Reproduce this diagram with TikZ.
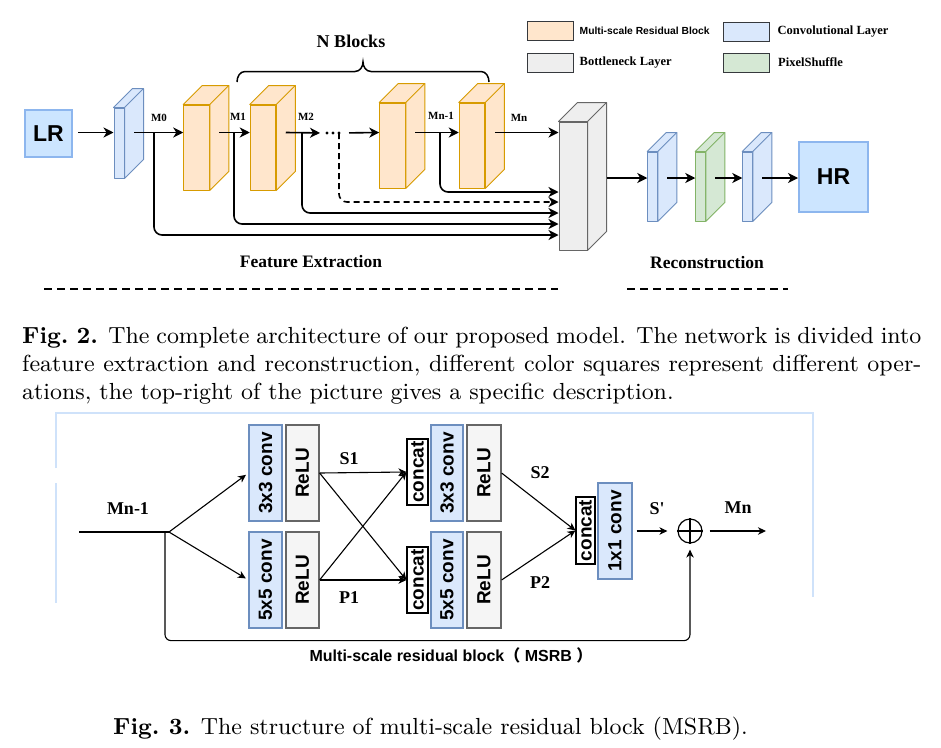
\documentclass[tikz,border=0pt]{standalone}
\usepackage{fontspec}
\usetikzlibrary{positioning,calc,arrows.meta}
\newfontfamily\tnr{Liberation Serif}
\newfontfamily\ari{Liberation Sans}
\newfontfamily\cjk{Noto Sans CJK SC}
\definecolor{convfill}{HTML}{DAE8FC}
\definecolor{convline}{HTML}{6C8EBF}
\definecolor{msrbfill}{HTML}{FFE6CC}
\definecolor{msrbline}{HTML}{D79B00}
\definecolor{psfill}{HTML}{D5E8D4}
\definecolor{psline}{HTML}{82B366}
\definecolor{bnfill}{HTML}{EEEEEE}
\definecolor{bnline}{HTML}{666666}
\definecolor{relufill}{HTML}{F5F5F5}
\definecolor{iofill}{HTML}{CCE5FF}
\definecolor{ioline}{HTML}{8DB6EE}
\definecolor{legline}{HTML}{36393D}
\definecolor{framecol}{HTML}{CFE2FA}

\begin{document}
\begin{tikzpicture}[x=1pt, y=-1pt,
  face/.style={line width=1pt, inner sep=0pt, line join=round},
  iobox/.style={draw=ioline, fill=iofill, line width=2pt, inner sep=0pt,
    font=\ari\bfseries\fontsize{23}{23}\selectfont},
  legbox/.style={draw=legline, line width=1pt, minimum width=46pt, minimum height=19pt, inner sep=0pt},
  legtext/.style={inner sep=0pt, font=\tnr\bfseries\fontsize{12.5}{12.5}\selectfont},
  mlabel/.style={inner sep=0pt, font=\tnr\bfseries\fontsize{11}{11}\selectfont},
  title/.style={inner sep=0pt, font=\tnr\bfseries\fontsize{17.5}{17.5}\selectfont},
  flabel/.style={inner sep=0pt, font=\tnr\bfseries\fontsize{18}{18}\selectfont},
  thickarr/.style={line width=1.6pt, -{Stealth[length=10pt,width=10pt,inset=3pt]}},
  thinarr/.style={line width=1.1pt, -{Stealth[length=8pt,width=7.5pt,inset=2.5pt]}},
  opbox/.style={line width=1.2pt, minimum width=33pt, minimum height=96pt, inner sep=0pt,
    font=\ari\bfseries\fontsize{19}{19}\selectfont},
  convop/.style={opbox, draw=convline, fill=convfill},
  reluop/.style={opbox, draw=bnline, fill=relufill},
  catbox/.style={draw=black, fill=white, line width=1.2pt, minimum width=21pt, minimum height=66pt,
    inner sep=0pt, font=\ari\bfseries\fontsize{19}{19}\selectfont}
]

  % Page
  \useasboundingbox (0,0) rectangle (941,747);
  \fill[white] (0,0) rectangle (941,747);

  % ---------------- Fig. 2: whole network ----------------
  \coordinate (row) at (0,132.5);
  \coordinate (row2) at (0,178);

  \node[iobox, minimum size=47pt] (lr) at (48.5,133.5) {LR};
  \node[iobox, minimum width=69pt, minimum height=70pt] (hr) at (833.5,177) {HR};

  % front faces of the blocks
  \node[face, draw=convline, fill=convfill, minimum width=10pt, minimum height=70pt] (c1) at (119,143) {};
  \node[face, draw=msrbline, fill=msrbfill, minimum width=25.5pt, minimum height=85pt] (b1) at (196.5,147.5) {};
  \node[face, draw=msrbline, fill=msrbfill, minimum width=25.5pt, minimum height=85pt] (b2) at (263,147.5) {};
  \node[face, draw=msrbline, fill=msrbfill, minimum width=25.5pt, minimum height=85pt] (b3) at (392.5,145.5) {};
  \node[face, draw=msrbline, fill=msrbfill, minimum width=25.5pt, minimum height=85pt] (b4) at (472,145.5) {};
  \node[face, draw=bnline, fill=bnfill, minimum width=28pt, minimum height=128pt] (bn) at (573,186) {};
  \node[face, draw=convline, fill=convfill, minimum width=9.5pt, minimum height=69pt] (c2) at (652.5,186.5) {};
  \node[face, draw=psline, fill=psfill, minimum width=9.5pt, minimum height=69pt] (ps) at (700.5,186.5) {};
  \node[face, draw=convline, fill=convfill, minimum width=9.5pt, minimum height=69pt] (c3) at (747.5,186.5) {};

  % top and side faces
  \foreach \n/\f/\c in {c1/convfill/convline, b1/msrbfill/msrbline, b2/msrbfill/msrbline,
      b3/msrbfill/msrbline, b4/msrbfill/msrbline, bn/bnfill/bnline,
      c2/convfill/convline, ps/psfill/psline, c3/convfill/convline} {
    \filldraw[fill=\f, draw=\c, line width=1pt, line join=round]
      (\n.north west) -- ++(19,-19) -- ($(\n.north east)+(19,-19)$)
      -- ($(\n.south east)+(19,-19)$) -- (\n.south east) -- (\n.north east) -- cycle;
    \draw[\c, line width=1pt] (\n.north east) -- ++(19,-19);
    \coordinate (\n-s) at ($(\n.east)+(9.5,0)$);
  }

  % dots between the blocks
  \coordinate (d1) at (327,133);
  \coordinate (d2) at (333,133);
  \coordinate (d3) at (339,133);
  \foreach \n in {d1,d2,d3}
    \fill (\n) circle (1.7);

  % main path
  \draw[thickarr, shorten <=5pt] (lr.east |- row) -- (c1.west |- row);
  \draw[thickarr] (c1-s |- row) -- (b1.west |- row);
  \draw[thickarr] (b1-s |- row) -- (b2.west |- row);
  \draw[thickarr, shorten >=7pt] (b2-s |- row) -- (d1);
  \draw[thickarr, shorten <=10pt] (d3) -- (b3.west |- row);
  \draw[thickarr] (b3-s |- row) -- (b4.west |- row);
  \draw[thickarr] (b4-s |- row) -- (bn.west |- row);
  \draw[thickarr] ([xshift=19pt]bn.east |- row2) -- (c2.west |- row2);
  \draw[thickarr] (c2-s |- row2) -- (ps.west |- row2);
  \draw[thickarr] (ps-s |- row2) -- (c3.west |- row2);
  \draw[thickarr] (c3-s |- row2) -- (hr.west |- row2);

  % skip connections into the bottleneck
  \coordinate (m0) at (154,132.5);
  \coordinate (m1) at (234,132.5);
  \coordinate (m2) at (302,132.5);
  \coordinate (mn1) at (440,132.5);
  \draw[thickarr, rounded corners=8pt] (mn1) |- ([yshift=-6pt]bn.west);
  \draw[thickarr, rounded corners=8pt, dash pattern=on 6pt off 4pt] (d3) |- ([yshift=-16pt]bn.west);
  \draw[thickarr, rounded corners=8pt] (m2) |- ([yshift=-27pt]bn.west);
  \draw[thickarr, rounded corners=8pt] (m1) |- ([yshift=-38pt]bn.west);
  \draw[thickarr, rounded corners=8pt] (m0) |- ([yshift=-49pt]bn.west);

  \node[mlabel] (lm0) at (159,118) {M0};
  \node[mlabel] (lm1) at (238,117) {M1};
  \node[mlabel] (lm2) at (306,117) {M2};
  \node[mlabel] (lmn1) at (441,116) {Mn-1};
  \node[mlabel] (lmn) at (519,118) {Mn};

  % brace over the blocks
  \draw[line width=1.5pt] (237,82) to[out=90,in=180] (245,71.5) -- (355,71.5)
    to[out=0,in=-90] (363,62) to[out=-90,in=180] (371,71.5) -- (481,71.5) to[out=0,in=90] (489,82);
  \node[flabel] (nb) at (351,41) {N Blocks};

  % legend
  \node[legbox, fill=msrbfill] (lg1) at (550,30.5) {};
  \node[right=6pt of lg1, inner sep=0pt, font=\ari\bfseries\fontsize{10.3}{10.3}\selectfont] (lt1) {Multi-scale Residual Block};
  \node[legbox, fill=convfill] (lg2) at (746,31.5) {};
  \node[legtext, right=8pt of lg2] (lt2) {Convolutional Layer};
  \node[legbox, fill=bnfill] (lg3) at (550,62.5) {};
  \node[legtext, right=6pt of lg3] (lt3) {Bottleneck Layer};
  \node[legbox, fill=psfill] (lg4) at (746.5,62.5) {};
  \node[legtext, right=8pt of lg4] (lt4) {PixelShuffle};

  % stage names
  \node[title] (fe) at (311,262) {Feature Extraction};
  \node[title] (rc) at (707,263) {Reconstruction};
  \draw[line width=1.2pt, dash pattern=on 8pt off 5pt] (44,289) -- (558,289);
  \draw[line width=1.2pt, dash pattern=on 8pt off 5pt] (627,289) -- (788,289);

  % caption of Fig. 2
  \node[anchor=base west, inner sep=0pt] (cap2) at (22,343) {\scalebox{2.586}{\parbox[t]{347.7pt}{\fontsize{9}{11}\selectfont
    \textbf{Fig.~2.} The complete architecture of our proposed model. The network is divided into\linebreak
    feature extraction and reconstruction, different color squares represent different oper-\linebreak
    ations, the top-right of the picture gives a specific description.}}};

  % ---------------- Fig. 3: one MSRB ----------------
  \draw[framecol, line width=2.5pt] (56,468) -- (56,413) -- (813,413) -- (813,597);
  \draw[framecol, line width=2.5pt] (56,483) -- (56,603);

  \node[convop] (k3a) at (265.5,473) {\rotatebox{90}{3x3 conv}};
  \node[reluop] (r1) at (302.5,473) {\rotatebox{90}{ReLU}};
  \node[convop] (k5a) at (265.5,580) {\rotatebox{90}{5x5 conv}};
  \node[reluop] (r2) at (302.5,580) {\rotatebox{90}{ReLU}};
  \node[catbox] (cc1) at (417.5,472) {\rotatebox{90}{concat}};
  \node[catbox] (cc2) at (417.5,580) {\rotatebox{90}{concat}};
  \node[convop, minimum width=32pt] (k3b) at (447,473) {\rotatebox{90}{3x3 conv}};
  \node[reluop, minimum width=34pt] (r3) at (484,473) {\rotatebox{90}{ReLU}};
  \node[convop, minimum width=32pt] (k5b) at (447,580) {\rotatebox{90}{5x5 conv}};
  \node[reluop, minimum width=34pt] (r4) at (484,580) {\rotatebox{90}{ReLU}};
  \node[catbox, minimum width=19pt, minimum height=67pt] (cc3) at (585.5,530.5) {\rotatebox{90}{concat}};
  \node[convop, minimum width=34pt] (k1) at (615,531) {\rotatebox{90}{1x1 conv}};
  \node[circle, draw, line width=1.2pt, minimum size=24pt, inner sep=0pt] (sum) at (690,531) {};
  \draw[line width=1.2pt] (sum.north) -- (sum.south) (sum.west) -- (sum.east);

  \coordinate (in) at (79,532);
  \coordinate (split) at (169,532);
  \coordinate (res) at (165,532);
  \coordinate (out) at (766,531);

  \draw[line width=1.1pt] (in) -- (split);
  \draw[thinarr, shorten >=3pt] (split) -- (k3a.west);
  \draw[thinarr, shorten >=3pt] (split) -- (k5a.west);
  \foreach \a in {r1,r2}
    \foreach \b in {cc1,cc2}
      \draw[thinarr] (\a.east) -- (\b.west);
  \draw[thinarr] (r3.east) -- (cc3.west);
  \draw[thinarr] (r4.east) -- (cc3.west);
  \draw[thinarr, shorten <=4pt, shorten >=10pt] (k1.east) -- (sum.west);
  \draw[thinarr, shorten <=7pt] (sum.east) -- (out);
  \draw[thinarr, rounded corners=6pt, shorten >=6pt] (res) |- ([yshift=-97pt]sum.south) -- (sum.south);

  \node[flabel] (lin) at (128,509) {Mn-1};
  \node[flabel] (ls1) at (349,459) {S1};
  \node[flabel] (lp1) at (349,598) {P1};
  \node[flabel] (ls2) at (540,473) {S2};
  \node[flabel] (lp2) at (540,583) {P2};
  \node[flabel] (lsp) at (657,509) {S'};
  \node[flabel] (lout) at (738,508) {Mn};

  \node[inner sep=0pt, font=\ari\bfseries\fontsize{16}{16}\selectfont] (msrb) at (451,655)
    {Multi-scale residual block{\cjk （} MSRB {\cjk ）}};

  % caption of Fig. 3
  \node[anchor=base west, inner sep=0pt] (cap3) at (113,734)
    {\scalebox{2.586}{\fontsize{9}{11}\selectfont\textbf{Fig.~3.} The structure of multi-scale residual block (MSRB).}};

\end{tikzpicture}
\end{document}
